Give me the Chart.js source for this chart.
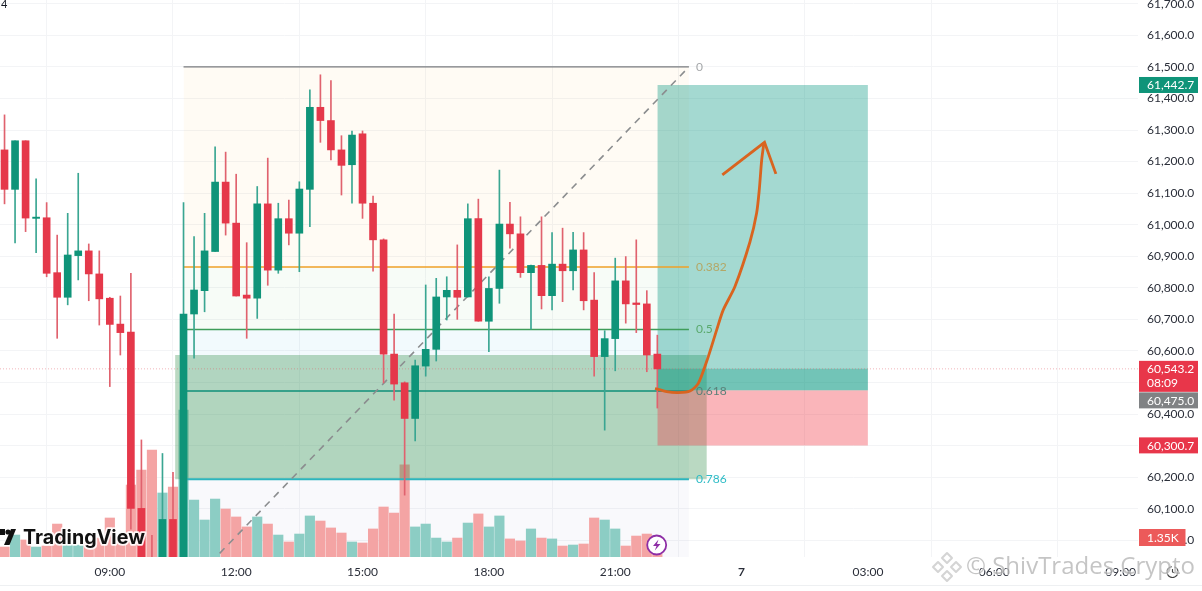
<!DOCTYPE html>
<html>
<head>
<meta charset="utf-8">
<style>html,body{margin:0;padding:0;background:#fff}canvas{display:block}</style>
<script src="https://cdn.jsdelivr.net/npm/chart.js@4/dist/chart.umd.js"></script>
</head>
<body>
<canvas id="c" width="1202" height="591"></canvas>
<script>
// ---- candle data (15 minute candles, index 0 = 06:30)
const opens = [61237,61112,61266,61020,61022,60848,60770,60902,60917,60844,60767,60685,60660,60101,59900,59900,60066,59900,60717,60791,60915,61135,61005,60777,60767,61066,60856,61019,60973,61112,61372,61330,61237,61190,61288,61068,60952,60590,60499,60386,60552,60605,60771,60792,60771,61019,60694,60798,61002,60971,60848,60871,60775,60875,60854,60920,60761,60582,60639,60822,60752,60749,60590];
const highs = [61348,61266,61266,61145,61070,60967,61036,61163,60939,60917,60770,60774,60846,60318,60016,60275,60215,61070,60962,61036,61247,61230,61160,60943,61121,61211,61068,61078,61136,61427,61475,61457,61282,61297,61297,61091,60955,60717,60502,60571,60809,60830,60835,60936,61066,61081,60835,61173,61071,61025,60872,61025,60975,60989,60976,60975,60848,60664,60894,60899,60952,60791,60650];
const lows  = [61066,60942,60978,60911,60835,60640,60746,60825,60759,60682,60487,60587,60035,59880,59800,59880,59880,59880,60577,60724,60915,60967,60774,60640,60703,60808,60846,60936,60851,60994,61261,61205,61094,61068,61020,60853,60499,60444,60143,60315,60520,60568,60698,60700,60771,60694,60598,60751,60926,60833,60669,60733,60730,60756,60793,60730,60520,60349,60537,60688,60658,60534,60419];
const closes= [61112,61266,61021,61024,60846,60770,60904,60917,60844,60765,60684,60658,60101,59900,59850,60066,59900,60717,60793,60917,61135,61005,60774,60767,61066,60856,61019,60973,61113,61372,61330,61237,61188,61284,61068,60952,60590,60495,60386,60553,60605,60771,60792,60770,61019,60694,60798,61002,60971,60848,60871,60775,60875,60854,60920,60759,60582,60639,60822,60749,60747,60587,60543];
const volumes=[690,1520,1180,690,760,2280,830,830,1040,1310,2700,1250,4980,6020,7400,4430,4840,10170,3940,2560,4010,3320,2770,2080,2770,2280,1520,1040,1590,2840,2490,2010,1660,1040,970,1940,3460,3040,6370,2080,2280,1310,1040,1310,2350,2980,2080,2840,1250,1110,1940,1310,1250,760,830,900,2700,2560,1940,760,1450,1590,1350];
const candleIdx = opens.map((_, i) => i);

// ---- axes
const xTickIdx    = [10,22,34,46,58,70,82,94,106];
const xTickLabels = ["09:00","12:00","15:00","18:00","21:00","7","03:00","06:00","09:00"];
const yTicks = [60000,60100,60200,60300,60400,60500,60600,60700,60800,60900,61000,61100,61200,61300,61400,61500,61600,61700];

// ---- fib retracement
const fibStart = 17, fibEnd = 65, fibLabelIdx = 65.67;
const fibLabels = ["0","0.382","0.5","0.618","0.786"];
const fibPrices = [61500,60866,60668,60473,60193];
const fibBottom = 59840;

// ---- zones and position
const zoneRange = [16.2,66.7], zonePrices = [60587,60193];
const posRange = [62,82];
const posTarget = 61442.7, posEntry = 60475.0, posStop = 60300.7, lastPrice = 60543.2;

// ---- hand-drawn arrow
const arrowIdx    = [61.78,62.89,63.99,65.1,65.89,66.84,67.63,68.26,69.37,70.8,71.43,71.68,71.91,72.13];
const arrowPrices = [60481,60471,60468,60473,60497,60582,60666,60730,60804,60946,61037,61110,61205,61261];
const headIdx     = [68.17,72.18,73.26];
const headPrices  = [61158,61261,61161];

const UP='#0f9479', DOWN='#e5384a', VUP='#8ccdc4', VDOWN='#f4a4a4';
const isUp = i => closes[i] >= opens[i];
const FONT='Lato, "Open Sans", sans-serif';

function band(xa,xb,top,bottom,color,order){
  return {type:'line',data:[{x:xa,y:top},{x:xb,y:top}],fill:{value:bottom},backgroundColor:color,borderWidth:0,pointRadius:0,order,yAxisID:'y',xAxisID:'x'};
}
function line(xs,ys,color,width,order,extra){
  return Object.assign({type:'line',data:xs.map((x,i)=>({x,y:ys[i]})),borderColor:color,borderWidth:width,pointRadius:0,fill:false,order,yAxisID:'y',xAxisID:'x'},extra||{});
}

const datasets = [
  // fib backgrounds
  band(fibStart,fibEnd,fibPrices[0],fibPrices[1],'rgba(255,152,0,0.045)',100),
  band(fibStart,fibEnd,fibPrices[1],fibPrices[2],'rgba(76,175,80,0.045)',100),
  band(fibStart,fibEnd,fibPrices[2],fibPrices[3],'rgba(0,150,210,0.05)',100),
  band(fibStart,fibEnd,fibPrices[3],fibPrices[4],'rgba(8,153,129,0.05)',100),
  band(fibStart,fibEnd,fibPrices[4],fibBottom,'rgba(120,120,190,0.045)',100),
  // volume
  {type:'bar',grouped:false,yAxisID:'v',xAxisID:'x',data:candleIdx.map(i=>({x:i,y:volumes[i]})),backgroundColor:candleIdx.map(i=>isUp(i)?VUP:VDOWN),barThickness:9.5,order:90},
  // green zone
  band(zoneRange[0],zoneRange[1],zonePrices[0],zonePrices[1],'rgba(46,140,70,0.33)',80),
  // position
  band(posRange[0],posRange[1],posTarget,posEntry,'rgba(8,153,129,0.37)',79),
  band(posRange[0],posRange[1],lastPrice,posEntry,'rgba(8,153,129,0.32)',78),
  band(posRange[0],posRange[1],posEntry,posStop,'rgba(242,54,69,0.37)',79),
  // fib lines
  line([fibStart,fibEnd],[fibPrices[0],fibPrices[0]],'#787b7e',1.4,70),
  line([fibStart,fibEnd],[fibPrices[1],fibPrices[1]],'#efa027',1.6,70),
  line([fibStart,fibEnd],[fibPrices[2],fibPrices[2]],'#3f9d5a',1.4,70),
  line([fibStart,fibEnd],[fibPrices[3],fibPrices[3]],'#0f8f78',1.6,70),
  line([fibStart,fibEnd],[fibPrices[4],fibPrices[4]],'#2db4bd',2,70),
  line([fibStart,fibEnd],[fibBottom,fibPrices[0]],'#8b8d8f',1.6,69,{borderDash:[7,6]}),
  // last price
  line([-1,108],[lastPrice,lastPrice],'rgba(226,90,100,0.45)',1,60,{borderDash:[1,2]}),
  // wicks and bodies
  {type:'bar',grouped:false,yAxisID:'y',xAxisID:'x',data:candleIdx.map(i=>({x:i,y:[lows[i],highs[i]]})),backgroundColor:candleIdx.map(i=>isUp(i)?'#3aa692':'#e0626e'),barThickness:1,order:11},
  {type:'bar',grouped:false,yAxisID:'y',xAxisID:'x',data:candleIdx.map(i=>({x:i,y:[opens[i],closes[i]]})),backgroundColor:candleIdx.map(i=>isUp(i)?UP:DOWN),barThickness:7,order:10},
  // arrow
  line(arrowIdx,arrowPrices,'#d9641f',2.8,2,{tension:0.25}),
  line(headIdx,headPrices,'#d9641f',2.8,1),
];

function tag(ctx,x0,x1,y0,y1,bg,lines){
  ctx.fillStyle=bg; ctx.fillRect(x0,y0,x1-x0,y1-y0);
  ctx.fillStyle='#fff'; ctx.textAlign='left'; ctx.textBaseline='middle';
  lines.forEach(l=>{ctx.fillText(l[0],x0+l[2],l[1]);});
}

const zeroPad = a => { a.paddingTop=0; a.paddingBottom=0; a.paddingLeft=0; a.paddingRight=0; };

const overlay = {
  id:'overlay',
  beforeDraw(chart){
    const c=chart.ctx; c.save(); c.fillStyle='#fff'; c.fillRect(0,0,chart.width,chart.height);
    c.fillStyle='#eef0f2'; c.fillRect(0,585,1202,1);
    c.restore();
  },
  afterDraw(chart){
    const c=chart.ctx,y=chart.scales.y,x=chart.scales.x; c.save();
    const fibColors=['#a6a8aa','#b3a766','#5aa96d','#5a7f78','#2fbcc6'];
    c.font='12px '+FONT; c.textAlign='left'; c.textBaseline='middle';
    fibLabels.forEach((t,i)=>{c.fillStyle=fibColors[i];c.fillText(t,x.getPixelForValue(fibLabelIdx),y.getPixelForValue(fibPrices[i]));});
    const fmt=v=>v.toLocaleString('en-US',{minimumFractionDigits:1,maximumFractionDigits:1});
    c.font='12px '+FONT;
    const tx0=1139,tx1=1198;
    const yT=y.getPixelForValue(posTarget);
    tag(c,tx0,tx1,yT-8,yT+8,'#0f9479',[[fmt(posTarget),yT+0.5,8]]);
    const yL=y.getPixelForValue(lastPrice);
    tag(c,tx0,tx1,yL-8,yL+23,'#e8364a',[[fmt(lastPrice),yL+0.5,8],['08:09',yL+14.5,8]]);
    const yE=y.getPixelForValue(posEntry);
    tag(c,tx0,tx1,yE+2,yE+18,'#808284',[[fmt(posEntry),yE+10.5,8]]);
    const yS=y.getPixelForValue(posStop);
    tag(c,tx0,tx1,yS-8,yS+8,'#e8364a',[[fmt(posStop),yS+0.5,8]]);
    tag(c,tx0,1185.5,529,546,'#ec5a5a',[['1.35K',538,8]]);
    c.fillStyle='#131722'; c.font='11px '+FONT; c.textAlign='left'; c.textBaseline='middle'; c.fillText('4',1,4);
    c.beginPath(); c.arc(656.7,545,9.5,0,Math.PI*2); c.fillStyle='#fff'; c.fill(); c.lineWidth=1.8; c.strokeStyle='#8e2ea6'; c.stroke();
    c.beginPath(); c.moveTo(658.5,539.5); c.lineTo(653,546); c.lineTo(656.5,546); c.lineTo(654.8,550.5); c.lineTo(660.5,544); c.lineTo(657,544); c.closePath(); c.fillStyle='#8e2ea6'; c.fill();
    c.lineJoin='round';
    c.font='700 19.7px Inter, '+FONT; c.textAlign='left'; c.textBaseline='alphabetic';
    c.lineWidth=3.5; c.strokeStyle='rgba(255,255,255,0.9)'; c.strokeText('TradingView',23,544); c.fillStyle='#111'; c.fillText('TradingView',23,544);
    c.fillStyle='#111';
    c.fillRect(0,529,5,6);
    c.beginPath(); c.arc(8,532,2.6,0,Math.PI*2); c.fill();
    c.beginPath(); c.moveTo(11,529); c.lineTo(16,529); c.lineTo(9.5,545); c.lineTo(4,545); c.closePath(); c.fill();
    c.strokeStyle='#444'; c.lineWidth=1.2; c.beginPath(); c.arc(1172.5,572,5.5,-1.2,4.6); c.stroke();
    c.beginPath(); c.moveTo(1172.5,569); c.lineTo(1172.5,572); c.lineTo(1175,573); c.stroke();
    c.font='24px "Open Sans", sans-serif'; c.textBaseline='middle'; c.textAlign='left';
    c.lineWidth=2; c.strokeStyle='rgba(255,255,255,0.55)';
    c.strokeText('© ShivTrades Crypto',966,567); c.fillStyle='rgba(150,150,150,0.55)'; c.fillText('© ShivTrades Crypto',966,567);
    c.strokeStyle='rgba(170,170,170,0.5)'; c.lineWidth=2;
    [[947,558],[938,567],[956,567],[947,576]].forEach(p=>{c.beginPath();c.moveTo(p[0]-5,p[1]);c.lineTo(p[0],p[1]-5);c.lineTo(p[0]+5,p[1]);c.lineTo(p[0],p[1]+5);c.closePath();c.stroke();});
    c.restore();
  }
};

new Chart(document.getElementById('c'),{
  type:'bar',
  data:{datasets},
  plugins:[overlay],
  options:{
    responsive:false,animation:false,devicePixelRatio:1,
    layout:{padding:0,autoPadding:false},
    plugins:{legend:{display:false},tooltip:{enabled:false}},
    scales:{
      x:{type:'linear',min:-0.43,max:107.65,offset:false,
        afterBuildTicks:a=>{a.ticks=xTickIdx.map(v=>({value:v}));},
        afterFit:a=>{a.height=34;zeroPad(a);},
        grid:{color:'#f3f4f6',drawTicks:false},border:{display:false},
        ticks:{autoSkip:false,maxRotation:0,padding:8,color:'#2a2e39',
          font:c=>({family:FONT,size:12,weight:c.tick&&c.tick.value===70?'bold':'normal'}),
          callback:v=>{const k=xTickIdx.indexOf(v);return k<0?'':xTickLabels[k];}}},
      y:{type:'linear',position:'right',min:59947,max:61712,
        afterBuildTicks:a=>{a.ticks=yTicks.map(v=>({value:v}));},
        afterFit:a=>{a.width=64;zeroPad(a);},
        grid:{color:'#f3f4f6',drawTicks:false},border:{display:false},
        ticks:{padding:9,color:'#2a2e39',font:{family:FONT,size:12},
          callback:v=>v.toLocaleString('en-US',{minimumFractionDigits:1,maximumFractionDigits:1})}},
      v:{type:'linear',display:false,min:0,max:38544}
    }
  }
});
</script>
</body>
</html>
